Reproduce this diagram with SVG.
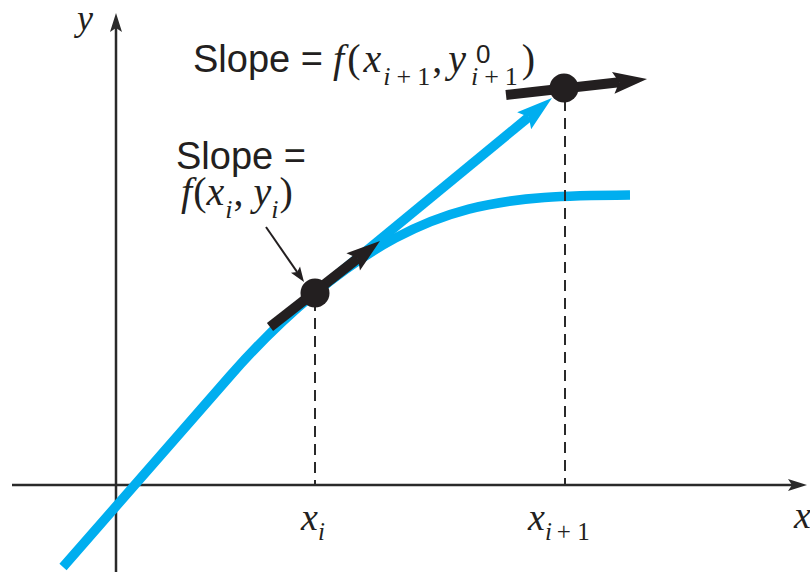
<svg xmlns="http://www.w3.org/2000/svg" width="810" height="572" viewBox="0 0 810 572">
<style>
.axis{stroke:#2a2a2a;stroke-width:2.5;fill:none}
.dash{stroke:#2a2a2a;stroke-width:2;stroke-dasharray:11 7;fill:none}
.blue{stroke:#00aeef;stroke-width:9.5;fill:none;stroke-linecap:butt}
.blk{stroke:#231f20;stroke-width:10;fill:none}
.ptr{stroke:#231f20;stroke-width:2;fill:none}
.dot{fill:#231f20}
.sans{font-family:"Liberation Sans",Arial,sans-serif;fill:#231f20}
.serif{font-family:"Liberation Serif","Times New Roman",serif;fill:#231f20}
.it{font-style:italic}
</style>
<defs>
<marker id="axHead" viewBox="-21 -7 22 14" markerWidth="22" markerHeight="14" markerUnits="userSpaceOnUse" orient="auto" refX="-15" refY="0">
<path d="M0,0 L-19,-6 L-15,0 L-19,6 Z" fill="#2a2a2a"/>
</marker>
<marker id="bkHead" viewBox="-36 -12 37 24" markerWidth="37" markerHeight="24" markerUnits="userSpaceOnUse" orient="auto" refX="-28" refY="0">
<path d="M0,0 L-34,-11 L-28,0 L-34,11 Z" fill="#231f20"/>
</marker>
<marker id="blHead" viewBox="-38 -12 39 24" markerWidth="39" markerHeight="24" markerUnits="userSpaceOnUse" orient="auto" refX="-30" refY="0">
<path d="M0,0 L-36,-11 L-30,0 L-36,11 Z" fill="#00aeef"/>
</marker>
<marker id="ptHead" viewBox="-17 -7 18 14" markerWidth="18" markerHeight="14" markerUnits="userSpaceOnUse" orient="auto" refX="-12" refY="0">
<path d="M0,0 L-15,-5.5 L-12,0 L-15,5.5 Z" fill="#231f20"/>
</marker>
</defs>

<g id="axes">
<line class="axis" x1="116" y1="572" x2="116" y2="28" marker-end="url(#axHead)"/>
<line class="axis" x1="12" y1="485" x2="792" y2="485" marker-end="url(#axHead)"/>
<text class="serif it" x="77" y="30" font-size="36">y</text>
<text class="serif it" x="794" y="528" font-size="38">x</text>
</g>

<g id="curve">
<path class="blue" d="M63,567 L230,376 C260,341.7 285,317.6 315,293 C430,199 505,196 630,195"/>
</g>

<g id="connectors">
<line class="blue" x1="315" y1="293" x2="528.8" y2="117" marker-end="url(#blHead)"/>
<line class="dash" x1="315" y1="300" x2="315" y2="485"/>
<line class="dash" x1="565" y1="100" x2="565" y2="485"/>
<line class="blk" x1="270" y1="327" x2="357.9" y2="258.2" marker-end="url(#bkHead)"/>
<line class="blk" x1="506" y1="95" x2="619.2" y2="82.2" marker-end="url(#bkHead)"/>
<line class="ptr" x1="266" y1="227" x2="297.2" y2="272.1" marker-end="url(#ptHead)"/>
</g>

<g id="point-i">
<circle class="dot" cx="315" cy="293" r="14.5"/>
</g>
<g id="point-i1">
<circle class="dot" cx="564" cy="88" r="14.5"/>
</g>

<g id="label-slope-i">
<text class="sans" x="176" y="169" font-size="38">Slope =</text>
<text class="serif" font-size="40" x="181" y="205"><tspan class="it">f</tspan><tspan dx="1">(</tspan><tspan class="it">x</tspan><tspan class="it" dx="1" dy="13" font-size="26">i</tspan><tspan dy="-13" dx="1">,</tspan><tspan class="it" dx="10">y</tspan><tspan class="it" dy="13" font-size="26">i</tspan><tspan dy="-13" dx="1">)</tspan></text>
</g>

<g id="label-slope-i1">
<text class="sans" x="193" y="72" font-size="38">Slope =</text>
<text class="serif" font-size="40" x="333" y="72"><tspan class="it">f</tspan><tspan dx="3">(</tspan><tspan class="it" dx="3">x</tspan><tspan class="it" dx="2" dy="13" font-size="26">i</tspan><tspan dx="6" font-size="26">+</tspan><tspan dx="6" font-size="26">1</tspan><tspan dx="2" dy="-13">,</tspan><tspan class="it" dx="6">y</tspan><tspan class="it" dx="5" dy="13" font-size="26">i</tspan><tspan dx="6" font-size="26">+</tspan><tspan dx="6" font-size="26">1</tspan><tspan dx="4" dy="-13">)</tspan></text>
<text class="sans" x="476" y="63" font-size="26">0</text>
</g>

<g id="label-xi">
<text class="serif" font-size="38" x="301" y="530"><tspan class="it">x</tspan><tspan class="it" dy="10" font-size="25">i</tspan></text>
</g>
<g id="label-xi1">
<text class="serif" font-size="38" x="528" y="530"><tspan class="it">x</tspan><tspan class="it" dy="10" font-size="25">i</tspan><tspan dx="5" font-size="25">+ 1</tspan></text>
</g>
</svg>
